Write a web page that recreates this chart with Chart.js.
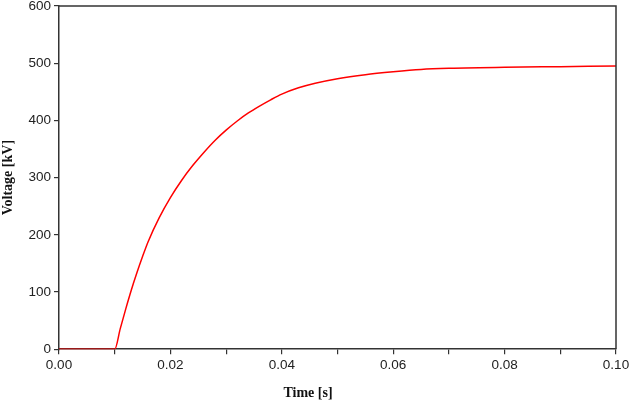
<!DOCTYPE html>
<html>
<head>
<meta charset="utf-8">
<script src="https://cdn.jsdelivr.net/npm/chart.js@4.4.1/dist/chart.umd.min.js"></script>
<style>
  html, body { margin: 0; padding: 0; background: #fff; }
  #box { width: 629px; height: 404px; }
</style>
</head>
<body>
<div id="box"><canvas id="myChart" width="629" height="404"></canvas></div>
<script>
// time [s] and voltage [kV]
const tiempo = [0, 0.01, 0.011, 0.012, 0.013, 0.014, 0.015, 0.016, 0.018, 0.020,
  0.022, 0.024, 0.026, 0.028, 0.030, 0.032, 0.034, 0.036, 0.038, 0.040,
  0.043, 0.046, 0.050, 0.055, 0.060, 0.065, 0.070, 0.080, 0.090, 0.100];
const voltaje = [0, 0, 36, 71, 104, 134, 162, 188, 230, 265,
  295, 321, 344, 365, 383, 399, 413, 425, 436, 446,
  457, 465, 473, 480, 485, 489, 491, 493, 494, 495];
const xTicks = [0, 0.02, 0.04, 0.06, 0.08, 0.10];
const yTicks = [0, 100, 200, 300, 400, 500, 600];

const puntos = tiempo.map((t, i) => ({ x: t, y: voltaje[i] }));

// marco superior y derecho
const marco = {
  id: "marco",
  afterDraw(chart) {
    const a = chart.chartArea;
    const ctx = chart.ctx;
    ctx.save();
    ctx.strokeStyle = "#333";
    ctx.lineWidth = 1.5;
    ctx.beginPath();
    ctx.moveTo(a.left, a.top);
    ctx.lineTo(a.right, a.top);
    ctx.lineTo(a.right, a.bottom);
    ctx.stroke();
    ctx.restore();
  },
};

const tickFont = { family: "'Liberation Sans', Arial, sans-serif", size: 13.5 };
const titleFont = { family: "'Liberation Serif', 'Times New Roman', serif", size: 14, weight: "bold" };

var config = {
  type: "line",
  data: {
    datasets: [
      {
        data: puntos,
        borderColor: "rgb(255, 0, 0)",
        borderWidth: 1.5,
        pointRadius: 0,
        fill: false,
        cubicInterpolationMode: "monotone",
      },
    ],
  },
  options: {
    responsive: false,
    animation: false,
    layout: { padding: { left: 0, top: 6, right: 13, bottom: 0 } },
    plugins: {
      legend: { display: false },
      tooltip: { enabled: false },
      title: {
        display: true,
        position: "bottom",
        text: "Time [s]",
        color: "#111",
        font: titleFont,
        padding: { top: 0, bottom: 2 },
      },
    },
    scales: {
      x: {
        type: "linear",
        min: 0,
        max: 0.1,
        afterBuildTicks: (scale) => {
          const t = [];
          for (let i = 0; i <= 10; i++) t.push({ value: i / 100 });
          scale.ticks = t;
        },
        afterFit: (scale) => {
          scale.height = 36;
          scale.paddingRight = 0;
          scale.paddingLeft = 0;
        },
        ticks: {
          color: "#222",
          font: tickFont,
          padding: 3,
          maxRotation: 0,
          autoSkip: false,
          callback: (v) => {
            const k = Math.round(v * 100);
            return xTicks.some((x) => Math.round(x * 100) === k) ? v.toFixed(2) : "";
          },
        },
        grid: { drawOnChartArea: false, color: "#333", tickLength: 5, lineWidth: 1.2 },
        border: { display: true, color: "#333", width: 1.5 },
      },
      y: {
        min: yTicks[0],
        max: yTicks[yTicks.length - 1],
        afterFit: (scale) => {
          scale.width = 59;
          scale.paddingTop = 0;
          scale.paddingBottom = 0;
        },
        ticks: {
          stepSize: 100,
          color: "#222",
          font: tickFont,
          padding: 3,
        },
        grid: { drawOnChartArea: false, color: "#333", tickLength: 5, lineWidth: 1.2 },
        border: { display: true, color: "#333", width: 1.5 },
        title: {
          display: true,
          text: "Voltage [kV]",
          color: "#111",
          font: titleFont,
          padding: { top: 0, bottom: 0 },
        },
      },
    },
  },
  plugins: [marco],
};

var ctx = document.getElementById("myChart").getContext("2d");
var myChart = new Chart(ctx, config);
</script>
</body>
</html>
